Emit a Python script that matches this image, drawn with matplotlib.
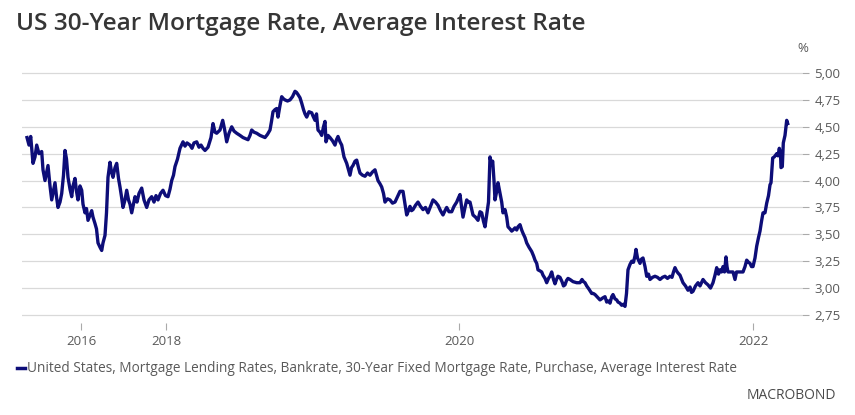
import matplotlib
matplotlib.use("Agg")
import matplotlib.pyplot as plt
from matplotlib.ticker import FuncFormatter, FixedLocator
from matplotlib.lines import Line2D

plt.rcParams['font.family'] = ['Open Sans', 'DejaVu Sans']

# observation index (weekly observations, irregular early history) and rate values (%)
obs_pos = [27, 29, 30.7, 33, 35, 36.7, 39, 41.7, 43, 45, 48, 50, 51.7, 55, 56.5, 58, 60, 61.7, 63.5, 65,
           66.5, 68, 70, 71.7, 73, 75, 76.5, 78, 80, 81.7, 83, 85, 86.5, 88, 90, 91.7, 93, 95, 96.5, 98,
           100, 101.7, 103, 105, 106.5, 108, 110, 111.5, 113, 115, 116.7, 118.5, 120, 121.5, 123, 125, 126.7, 128.5, 130, 131.7,
           133.5, 135, 137, 139, 141.7, 144, 146.7, 149, 151.7, 154, 156, 158, 160.5, 163, 165.5, 168, 170, 171.7, 173.5, 175,
           177.5, 180, 183, 185, 187, 190, 192, 194, 196.7, 199, 201, 203, 205, 208, 211, 213, 215, 216.7, 220, 222.7,
           224.5, 226.7, 229, 231.7, 234, 236.7, 240, 243, 245.5, 248, 250, 251.7, 254, 256.7, 260, 262.5, 265, 267.5, 270, 271.5,
           273, 275, 276.7, 278, 280, 281.7, 283.5, 285, 287.5, 290, 292.5, 295, 296.5, 298, 300, 301.7, 303.5, 305, 306.7, 309,
           311.7, 313, 315, 316.5, 318, 320, 321.7, 323.5, 325, 326, 328, 330, 332.5, 335, 336.5, 338, 340, 341.7, 344, 346.7,
           348.5, 350, 351.5, 353, 355, 356.7, 358.5, 360, 362.5, 365, 367.5, 370, 372.5, 375, 376.5, 378, 380, 381.7, 383.5, 385,
           387.5, 390, 392.5, 395, 397, 399, 400, 403, 405, 406.7, 408.5, 410, 411.5, 413, 415.5, 418, 420.5, 423, 425.5, 428,
           430.5, 433, 435.5, 438, 440.5, 443, 445, 446.7, 449, 451.7, 454, 456.7, 458.5, 460, 461.5, 463, 465, 466.7, 468.5, 470,
           471.5, 473, 475.5, 478, 480, 481.7, 483.5, 485, 487, 488.5, 490, 491.5, 492.7, 494, 495, 496.7, 498, 500, 501.7, 503,
           505, 506.7, 508, 510, 511.7, 513, 515, 516.7, 518, 520, 521.7, 523, 525, 526.7, 529, 531.7, 533.5, 535, 536.7, 538,
           540, 541.7, 543, 545, 546.7, 548.5, 550, 551.7, 553.5, 555, 556.5, 558, 560, 562, 563.5, 565, 566.5, 568, 570, 573,
           576.7, 580, 582, 583.5, 585, 586.7, 589, 591.7, 593.3, 595, 597, 600, 603, 605, 606.7, 608.5, 610, 611.7, 613, 615,
           616.7, 618, 620, 621.7, 623.5, 625, 626.5, 628, 630, 631.7, 633.5, 635, 636, 637.5, 640, 641.5, 643, 645, 646.7, 648.5,
           650, 652.5, 655, 657.5, 660, 662.5, 665, 667.5, 670, 672, 673.5, 675, 676.5, 678, 680, 683, 685.5, 688, 690, 691.5,
           693, 695.5, 698, 700, 703, 705.5, 708, 710.5, 713, 715, 716.7, 718.5, 720, 721.5, 723, 724.5, 726, 727, 728, 730.5,
           733, 735, 736.5, 738, 740.5, 743, 745, 746.7, 748.5, 750, 751.5, 753, 755, 756.7, 758.5, 760, 761.5, 763, 765, 766.7,
           768.5, 770, 771, 772.7, 774.3, 776.7, 778, 779.3, 780.5, 781, 782.3, 783.3, 785, 786.7, 787.7]
rate = [4.40, 4.33, 4.41, 4.16, 4.22, 4.33, 4.25, 4.27, 4.10, 4.00, 4.14, 3.95, 3.82, 3.98, 3.85, 3.75, 3.80, 3.88, 4.05, 4.28,
        4.20, 4.03, 3.92, 3.85, 3.95, 4.02, 3.90, 3.82, 3.95, 3.91, 3.78, 3.70, 3.74, 3.63, 3.68, 3.72, 3.66, 3.60, 3.55, 3.42,
        3.38, 3.35, 3.42, 3.49, 3.70, 4.03, 4.17, 4.08, 4.03, 4.12, 4.16, 4.02, 3.94, 3.85, 3.75, 3.82, 3.91, 3.82, 3.78, 3.70,
        3.78, 3.85, 3.80, 3.88, 3.93, 3.82, 3.75, 3.82, 3.85, 3.80, 3.86, 3.82, 3.88, 3.91, 3.86, 3.85, 3.92, 4.00, 4.05, 4.13,
        4.20, 4.30, 4.36, 4.32, 4.35, 4.33, 4.30, 4.35, 4.36, 4.31, 4.33, 4.30, 4.28, 4.31, 4.40, 4.53, 4.45, 4.44, 4.47, 4.56,
        4.48, 4.36, 4.44, 4.50, 4.46, 4.44, 4.42, 4.40, 4.39, 4.38, 4.42, 4.47, 4.45, 4.44, 4.42, 4.41, 4.40, 4.43, 4.47, 4.55,
        4.64, 4.66, 4.67, 4.59, 4.70, 4.78, 4.76, 4.75, 4.74, 4.75, 4.78, 4.83, 4.82, 4.80, 4.77, 4.72, 4.66, 4.62, 4.59, 4.64,
        4.63, 4.60, 4.56, 4.62, 4.47, 4.45, 4.42, 4.50, 4.55, 4.36, 4.42, 4.40, 4.37, 4.33, 4.38, 4.41, 4.36, 4.33, 4.22, 4.16,
        4.10, 4.05, 4.12, 4.14, 4.18, 4.19, 4.12, 4.07, 4.05, 4.04, 4.07, 4.05, 4.08, 4.10, 4.05, 4.00, 3.97, 3.94, 3.88, 3.80,
        3.83, 3.82, 3.79, 3.80, 3.84, 3.88, 3.90, 3.90, 3.78, 3.68, 3.72, 3.76, 3.72, 3.73, 3.77, 3.80, 3.76, 3.73, 3.75, 3.70,
        3.76, 3.82, 3.80, 3.77, 3.72, 3.68, 3.72, 3.75, 3.71, 3.71, 3.76, 3.80, 3.84, 3.87, 3.76, 3.66, 3.75, 3.82, 3.80, 3.80,
        3.74, 3.68, 3.66, 3.63, 3.71, 3.70, 3.62, 3.57, 3.70, 3.80, 4.22, 4.15, 4.18, 4.00, 3.82, 3.90, 3.98, 3.88, 3.80, 3.70,
        3.73, 3.66, 3.57, 3.55, 3.53, 3.54, 3.56, 3.54, 3.57, 3.59, 3.54, 3.51, 3.47, 3.42, 3.38, 3.34, 3.30, 3.26, 3.23, 3.17,
        3.16, 3.15, 3.12, 3.09, 3.05, 3.09, 3.11, 3.15, 3.08, 3.04, 3.08, 3.11, 3.10, 3.06, 3.02, 3.03, 3.07, 3.09, 3.08, 3.06,
        3.05, 3.05, 3.08, 3.06, 3.05, 3.02, 2.99, 2.95, 2.95, 2.94, 2.92, 2.89, 2.91, 2.92, 2.87, 2.88, 2.86, 2.92, 2.94, 2.90,
        2.89, 2.87, 2.86, 2.84, 2.85, 2.83, 2.95, 3.17, 3.22, 3.25, 3.24, 3.30, 3.36, 3.28, 3.23, 3.27, 3.28, 3.20, 3.11, 3.13,
        3.08, 3.10, 3.11, 3.10, 3.08, 3.10, 3.11, 3.09, 3.11, 3.10, 3.15, 3.19, 3.16, 3.14, 3.12, 3.05, 3.02, 2.98, 3.01, 2.96,
        2.97, 3.02, 3.05, 3.02, 3.08, 3.05, 3.03, 3.00, 3.05, 3.12, 3.19, 3.13, 3.17, 3.15, 3.20, 3.15, 3.29, 3.20, 3.15, 3.15,
        3.15, 3.08, 3.15, 3.15, 3.15, 3.15, 3.20, 3.26, 3.24, 3.23, 3.20, 3.20, 3.28, 3.39, 3.47, 3.53, 3.62, 3.70, 3.70, 3.79,
        3.86, 3.96, 3.98, 4.21, 4.22, 4.25, 4.23, 4.30, 4.25, 4.12, 4.13, 4.35, 4.42, 4.56, 4.53]

year_ticks = [81, 166, 459, 753]
year_labels = ["2016", "2018", "2020", "2022"]
y_ticks = [2.75, 3.00, 3.25, 3.50, 3.75, 4.00, 4.25, 4.50, 4.75, 5.00]

title = "US 30-Year Mortgage Rate, Average Interest Rate"
legend_label = ("United States, Mortgage Lending Rates, Bankrate, 30-Year Fixed Mortgage Rate, "
                "Purchase, Average Interest Rate")

LINE = "#0d0d78"
TXT = "#595959"

fig = plt.figure(figsize=(8.55, 4.15), dpi=100)
ax = fig.add_axes([22 / 855, 1 - 322.5 / 415, 780 / 855, 252.7 / 415])

ax.plot(obs_pos, rate, color=LINE, lw=2.4, solid_joinstyle='round', zorder=3)

ax.set_xlim(22, 802)
ax.set_ylim(2.68, 5.03)

ax.yaxis.tick_right()
ax.yaxis.set_major_locator(FixedLocator(y_ticks))
ax.yaxis.set_major_formatter(FuncFormatter(lambda v, p: f"{v:.2f}".replace('.', ',')))
ax.grid(axis='y', color='#d9d9d9', lw=0.9)
ax.set_axisbelow(True)
ax.tick_params(axis='y', length=5, width=0.8, color='#aaaaaa', labelcolor=TXT, labelsize=9.5, pad=4)

ax.xaxis.set_major_locator(FixedLocator(year_ticks))
ax.set_xticklabels(year_labels)
ax.tick_params(axis='x', length=5, width=0.8, color='#aaaaaa', labelcolor=TXT, labelsize=9.5, pad=4)
for s in ax.spines.values():
    s.set_visible(False)

fig.text(16 / 855, 1 - 24 / 415, title, fontsize=17.6, fontweight='semibold', color='#363636',
         ha='left', va='center')
fig.text(803 / 855, 1 - 48 / 415, "%", fontsize=9.5, color=TXT, ha='center', va='center')

fig.add_artist(Line2D([17 / 855, 25 / 855], [1 - 368 / 415, 1 - 368 / 415], color=LINE, lw=2.5))
fig.text(27 / 855, 1 - 368 / 415, legend_label, fontsize=9.8, color=TXT, ha='left', va='center')
fig.text(836 / 855, 1 - 395 / 415, "MACROBOND", fontsize=10, color='#4a4a4a', ha='right', va='center')

fig.savefig("out.png", dpi=100)
